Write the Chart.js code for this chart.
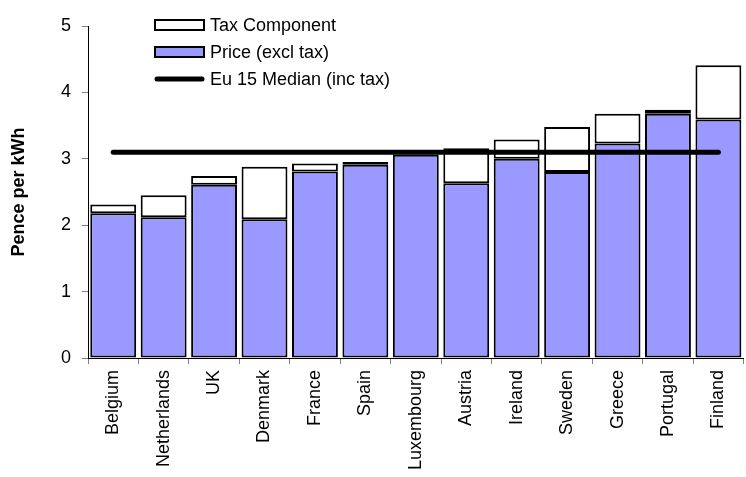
<!DOCTYPE html>
<html>
<head>
<meta charset="utf-8">
<script src="https://cdn.jsdelivr.net/npm/chart.js@4.4.1/dist/chart.umd.min.js"></script>
<style>
  html, body { margin: 0; padding: 0; background: #fff; }
  #wrap { width: 746px; height: 477px; }
</style>
</head>
<body>
<div id="wrap"><canvas id="chart" width="746" height="477"></canvas></div>
<script>
const COUNTRIES = ["Belgium","Netherlands","UK","Denmark","France","Spain","Luxembourg",
  "Austria","Ireland","Sweden","Greece","Portugal","Finland"];
const PRICE = [2.18, 2.12, 2.61, 2.09, 2.81, 2.91, 3.06, 2.63, 3.00, 2.80, 3.23, 3.68, 3.59];
const TAX   = [0.13, 0.33, 0.13, 0.79, 0.12, 0.04, 0.01, 0.53, 0.29, 0.68, 0.45, 0.06, 0.82];
const MEDIAN = 3.1;
const Y_MIN = 0, Y_MAX = 5, Y_STEP = 1;

const FONT = "'Liberation Sans', Arial, sans-serif";

// legend drawn inside the plot, top left (order: tax, price, median)
const insideLegend = {
  id: "insideLegend",
  afterDatasetsDraw(chart) {
    const ctx = chart.ctx;
    const ds = chart.data.datasets;
    const items = [ds[1], ds[0], ds[2]];
    const x0 = 155, x1 = 204, y0 = 25, gap = 27;
    ctx.save();
    ctx.font = "18px " + FONT;
    ctx.textBaseline = "middle";
    ctx.fillStyle = "#000";
    items.forEach((d, i) => {
      const y = y0 + i * gap;
      if (d.type === "line") {
        ctx.strokeStyle = d.borderColor;
        ctx.lineWidth = 5;
        ctx.lineCap = "round";
        ctx.beginPath(); ctx.moveTo(x0 + 2, y); ctx.lineTo(x1 - 2, y); ctx.stroke();
      } else {
        ctx.fillStyle = d.backgroundColor;
        ctx.fillRect(x0, y - 5, x1 - x0, 10);
        ctx.strokeStyle = "#000";
        ctx.lineWidth = 2;
        ctx.strokeRect(x0, y - 5, x1 - x0, 10);
      }
      ctx.fillStyle = "#000";
      ctx.fillText(d.label, x1 + 6, y + 1);
    });
    ctx.restore();
  }
};

const spacing = {
  id: "spacing",
  beforeInit(chart) { chart.ctx.letterSpacing = "1px"; }
};

new Chart(document.getElementById("chart"), {
  type: "bar",
  data: {
    labels: COUNTRIES,
    datasets: [
      { label: "Price (excl tax)", data: PRICE, backgroundColor: "#9999ff", borderColor: "#000",
        borderWidth: 2, borderSkipped: false, stack: "s", order: 1 },
      { label: "Tax Component", data: TAX, backgroundColor: "#ffffff", borderColor: "#000",
        borderWidth: 2, borderSkipped: false, stack: "s", order: 1 },
      { type: "line", label: "Eu 15 Median (inc tax)", data: COUNTRIES.map(() => MEDIAN),
        borderColor: "#000", borderWidth: 5, borderCapStyle: "round", pointRadius: 0, order: 0 }
    ]
  },
  options: {
    responsive: false, animation: false,
    layout: { padding: { top: 26, right: 0, left: 0, bottom: 0 } },
    datasets: { bar: { barPercentage: 0.91, categoryPercentage: 1 } },
    plugins: { legend: { display: false }, tooltip: { enabled: false } },
    scales: {
      x: {
        stacked: true,
        afterFit: s => { s.height = 119; },
        grid: { drawOnChartArea: false, tickLength: 6, color: "#808080" },
        border: { color: "#000", width: 1 },
        ticks: { autoSkip: false, maxRotation: 90, minRotation: 90, padding: 6,
                 color: "#000", font: { family: FONT, size: 18 } }
      },
      y: {
        stacked: true, min: Y_MIN, max: Y_MAX,
        afterFit: s => { s.width = 88; },
        grid: { drawOnChartArea: false, tickLength: 6, color: "#808080" },
        border: { color: "#000", width: 1 },
        ticks: { stepSize: Y_STEP, padding: 11, color: "#000", font: { family: FONT, size: 18 } },
        title: { display: true, text: "Pence per kWh", color: "#000", padding: { top: 8 },
                 font: { family: FONT, size: 18, weight: "bold" } }
      }
    }
  },
  plugins: [spacing, insideLegend]
});
</script>
</body>
</html>
